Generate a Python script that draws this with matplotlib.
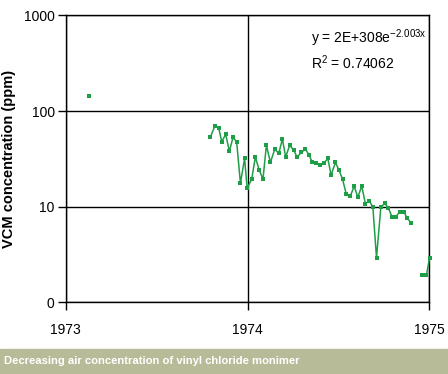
import numpy as np
import matplotlib
matplotlib.use("Agg")
from matplotlib import pyplot as plt
from matplotlib.ticker import FixedLocator, FixedFormatter

# VCM readings (year fraction, ppm); NaN breaks the line
years = [1973.129, np.nan,
         1973.795, 1973.819, 1973.841, 1973.858, 1973.880, 1973.900, 1973.920, 1973.940,
         1973.961, 1973.984, 1973.998, 1974.023, 1974.043, 1974.065, 1974.085, 1974.104,
         1974.126, 1974.150, 1974.172, 1974.192, 1974.210, 1974.232, 1974.254, 1974.273,
         1974.296, 1974.319, 1974.339, 1974.357, 1974.379, 1974.401, 1974.421, 1974.442,
         1974.460, 1974.484, 1974.504, 1974.523, 1974.543, 1974.566, 1974.587, 1974.607,
         1974.629, 1974.649, 1974.669, 1974.690, 1974.710, 1974.734, 1974.756, 1974.776,
         1974.796, 1974.816, 1974.838, 1974.860, 1974.877, 1974.899, np.nan,
         1974.960, 1974.985, 1975.002]
vcm = [144, np.nan,
       53, 69, 67, 48, 57, 38, 53, 48,
       17.6, 32, 15.6, 19.4, 33, 24, 19.4, 44,
       29, 40, 36, 51, 33, 44, 39, 33,
       37, 40, 34.5, 29, 28.5, 27, 28.5, 32,
       21.4, 29, 24, 19.4, 13.7, 12.9, 16.4, 12.6,
       16.4, 10.7, 11.6, 9.9, 2.92, 9.9, 10.9, 9.6,
       7.8, 7.8, 8.9, 8.9, 7.7, 6.8, np.nan,
       1.93, 1.93, 2.92]

y_ticks = [1, 10, 100, 1000]
y_labels = ['0', '10', '100', '1000']
x_ticks = [1973, 1974, 1975]

plt.rcParams['font.family'] = ['Liberation Sans', 'DejaVu Sans']

fig = plt.figure(figsize=(4.48, 3.74), dpi=100)
ax = fig.add_axes([0.147, 0.1917, 0.811, 0.767])

ax.plot(years, vcm, color='#1f9e48', lw=1.1, marker='s', ms=3.5,
        markeredgewidth=0, clip_on=False, zorder=3)

ax.set_yscale('log')
ax.set_ylim(1, 1000)
ax.set_xlim(1973, 1975)
ax.yaxis.set_major_locator(FixedLocator(y_ticks))
ax.yaxis.set_major_formatter(FixedFormatter(y_labels))
ax.yaxis.set_minor_locator(FixedLocator([]))
ax.set_xticks(x_ticks)
ax.set_xticklabels([str(x) for x in x_ticks])

ax.grid(True, color='black', lw=1)
for s in ax.spines.values():
    s.set_color('black')
    s.set_linewidth(1)
ax.tick_params(axis='y', length=6, width=1, labelsize=10, pad=2)
ax.tick_params(axis='x', length=6, width=1, labelsize=10, pad=9)

ax.set_ylabel('VCM concentration (ppm)', fontsize=10.5, fontweight='bold', labelpad=6)

ax.text(0.675, 0.905, r'y = 2E+308e$^{\mathregular{-2.003x}}$', transform=ax.transAxes,
        fontsize=10)
ax.text(0.675, 0.815, r'R$^{\mathregular{2}}$ = 0.74062', transform=ax.transAxes,
        fontsize=10)

# caption bar
fig.patches.append(plt.Rectangle((0, 0), 1, 25 / 374, transform=fig.transFigure,
                                 color='#b8bb98', zorder=0))
fig.text(0.009, 12.5 / 374, 'Decreasing air concentration of vinyl chloride monimer',
         color='white', fontsize=8.15, fontweight='bold', va='center')

fig.savefig('out.png', dpi=100)
